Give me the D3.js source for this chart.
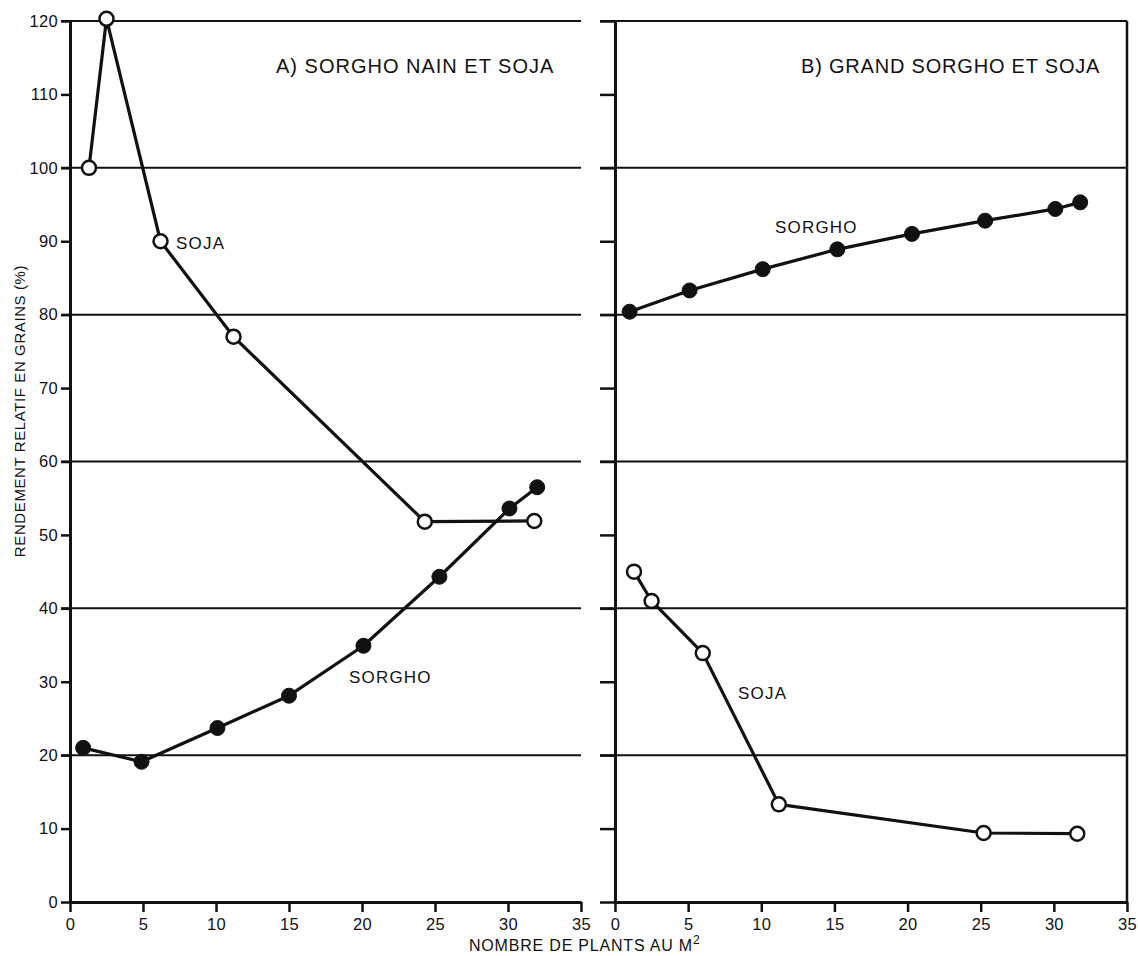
<!DOCTYPE html>
<html><head><meta charset="utf-8">
<script src="https://cdn.jsdelivr.net/npm/d3@7"></script>
<style>
html,body{margin:0;padding:0;background:#fff;}
text{font-family:"Liberation Sans", Arial, sans-serif; fill:#111;}
</style></head>
<body>
<script>
// ---- data ----
const xTickValues = [0, 5, 10, 15, 20, 25, 30, 35];
const yTickValues = [0, 10, 20, 30, 40, 50, 60, 70, 80, 90, 100, 110, 120];
const gridValues = [20, 40, 60, 80, 100, 120];

// Panel A : sorgho nain et soja
const sojaA_x = [1.3, 2.5, 6.2, 11.2, 24.3, 31.8];
const sojaA_y = [100, 120.3, 90, 77, 51.8, 51.9];
const sorghoA_x = [0.9, 4.9, 10.1, 15.0, 20.1, 25.3, 30.1, 32.0];
const sorghoA_y = [21.0, 19.1, 23.7, 28.1, 34.9, 44.3, 53.6, 56.5];

// Panel B : grand sorgho et soja
const sorghoB_x = [1.0, 5.1, 10.1, 15.2, 20.3, 25.3, 30.1, 31.8];
const sorghoB_y = [80.4, 83.3, 86.2, 88.9, 91.0, 92.8, 94.4, 95.3];
const sojaB_x = [1.3, 2.5, 6.0, 11.2, 25.2, 31.6];
const sojaB_y = [45.0, 41.0, 33.9, 13.3, 9.4, 9.3];

const titleA = "A) SORGHO NAIN ET SOJA";
const titleB = "B) GRAND SORGHO ET SOJA";
const yTitle = "RENDEMENT RELATIF EN GRAINS (%)";
const xTitle = "NOMBRE DE PLANTS AU M";

// ---- layout ----
const W = 1138, H = 956;
const svg = d3.select("body").append("svg").attr("width", W).attr("height", H)
  .style("background", "#fff");

const y = d3.scaleLinear().domain([0, 120]).range([902, 21]);
const xA = d3.scaleLinear().domain([0, 35]).range([70, 581]);
const xB = d3.scaleLinear().domain([0, 35]).range([615, 1127]);
const ink = "#111";

// gridlines
const g = svg.append("g");
g.selectAll("line.gA").data(gridValues).join("line")
  .attr("x1", xA(0) - 9).attr("x2", xA(35))
  .attr("y1", d => y(d)).attr("y2", d => y(d))
  .attr("stroke", ink).attr("stroke-width", 2);
g.selectAll("line.gB").data(gridValues).join("line").attr("class", "gB")
  .attr("x1", xB(0) - 15).attr("x2", xB(35))
  .attr("y1", d => y(d)).attr("y2", d => y(d))
  .attr("stroke", ink).attr("stroke-width", 2);
// right frame of panel B
g.append("line").attr("x1", xB(35)).attr("x2", xB(35)).attr("y1", y(120)).attr("y2", y(0))
  .attr("stroke", ink).attr("stroke-width", 2.5);

function styleAxis(sel, sw) {
  sel.select(".domain").attr("stroke", ink).attr("stroke-width", sw);
  sel.selectAll(".tick line").attr("stroke", ink).attr("stroke-width", 2.5);
  sel.selectAll(".tick text").attr("fill", ink)
    .style("font-family", '"Liberation Sans", Arial, sans-serif')
    .style("font-size", "16.5px").style("letter-spacing", "0.3px");
}

// y axis A
const yaA = svg.append("g").attr("transform", `translate(${xA(0)},0)`)
  .call(d3.axisLeft(y).tickValues(yTickValues).tickSize(9).tickSizeOuter(0).tickPadding(3).tickFormat(d3.format("d")));
styleAxis(yaA, 3);
// y axis B (no labels)
const yaB = svg.append("g").attr("transform", `translate(${xB(0)},0)`)
  .call(d3.axisLeft(y).tickValues(yTickValues).tickSize(15).tickSizeOuter(0).tickFormat(""));
styleAxis(yaB, 3);

// x axes
const xaA = svg.append("g").attr("transform", `translate(0,${y(0)})`)
  .call(d3.axisBottom(xA).tickValues(xTickValues).tickSize(10).tickSizeOuter(0).tickPadding(6).tickFormat(d3.format("d")));
styleAxis(xaA, 3);
const xaB = svg.append("g").attr("transform", `translate(0,${y(0)})`)
  .call(d3.axisBottom(xB).tickValues(xTickValues).tickSize(10).tickSizeOuter(0).tickPadding(6).tickFormat(d3.format("d")));
styleAxis(xaB, 3);

// series drawing
function series(xs, ys, xScale, filled) {
  const pts = xs.map((v, i) => [v, ys[i]]);
  const line = d3.line().x(d => xScale(d[0])).y(d => y(d[1]));
  svg.append("path").datum(pts).attr("d", line)
    .attr("fill", "none").attr("stroke", ink).attr("stroke-width", 3.2)
    .attr("stroke-linejoin", "round");
  svg.append("g").selectAll("circle").data(pts).join("circle")
    .attr("cx", d => xScale(d[0])).attr("cy", d => y(d[1]))
    .attr("r", filled ? 7.5 : 7)
    .attr("fill", filled ? ink : "#fff")
    .attr("stroke", ink).attr("stroke-width", filled ? 1 : 2.5);
}
series(sojaA_x, sojaA_y, xA, false);
series(sorghoA_x, sorghoA_y, xA, true);
series(sorghoB_x, sorghoB_y, xB, true);
series(sojaB_x, sojaB_y, xB, false);

// labels
function label(txt, x, yy, size, ls) {
  svg.append("text").attr("x", x).attr("y", yy).text(txt)
    .style("font-size", size + "px").style("letter-spacing", ls + "px")
    .attr("dominant-baseline", "central");
}
label(titleA, 276, 66, 20, 1);
label(titleB, 801, 66, 20, 0.8);
label("SOJA", 176, 243, 17, 1.2);
label("SORGHO", 349, 677, 17, 1.2);
label("SORGHO", 775, 227, 17, 1.2);
label("SOJA", 738, 693, 17, 1.2);

// axis titles
svg.append("text").attr("transform", "translate(19,411) rotate(-90)")
  .attr("text-anchor", "middle").attr("dominant-baseline", "central")
  .style("font-size", "15px").style("letter-spacing", "0.6px")
  .text(yTitle);

const xt = svg.append("text").attr("x", 469).attr("y", 951)
  .style("font-size", "16px").style("letter-spacing", "0.8px");
xt.append("tspan").text(xTitle);
xt.append("tspan").attr("dy", -7).style("font-size", "12px").text("2");
</script>
</body></html>
